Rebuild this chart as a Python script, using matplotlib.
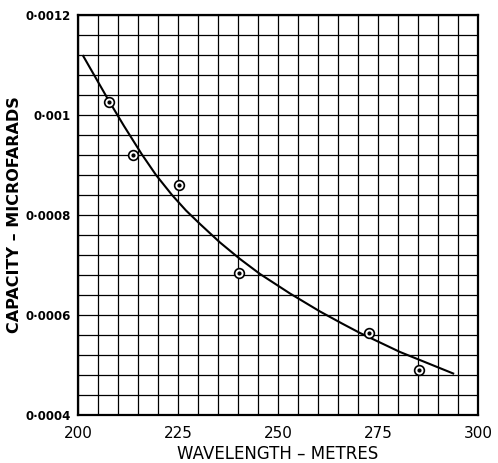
import numpy as np
import matplotlib.pyplot as plt
from matplotlib.ticker import MultipleLocator

# measured points
wavelength = [207.75, 213.75, 225.25, 240.25, 272.75, 285.25]
capacity = [0.001026, 0.00092, 0.00086, 0.000684, 0.000564, 0.00049]

# fitted curve
curve_x = [201.3, 207.6, 211.5, 215.9, 219.5, 223.5, 227.0, 230.5, 235.5, 240.5,
           245.5, 253.0, 260.5, 266.0, 270.5, 280.5, 287.0, 293.8]
curve_y = [0.001118, 0.00103, 0.000978, 0.000922, 0.00088, 0.00084, 0.000809,
           0.000782, 0.000745, 0.000712, 0.000682, 0.000643, 0.000607, 0.000583,
           0.000564, 0.000526, 0.000505, 0.000483]

x_ticks = [200, 225, 250, 275, 300]
y_ticks = [0.0004, 0.0006, 0.0008, 0.001, 0.0012]
y_tick_labels = ['0·0004', '0·0006', '0·0008', '0·001', '0·0012']

fig = plt.figure(figsize=(4.98, 4.63), dpi=100)
ax = fig.add_axes([0.1566, 0.1037, 0.8032, 0.864])

ax.set_xlim(200, 300)
ax.set_ylim(0.0004, 0.0012)

# graph paper grid
ax.xaxis.set_minor_locator(MultipleLocator(5))
ax.yaxis.set_minor_locator(MultipleLocator(0.00004))
ax.grid(which='both', color='black', linewidth=0.9)
ax.set_axisbelow(True)
for s in ax.spines.values():
    s.set_linewidth(1.6)

ax.set_xticks(x_ticks)
ax.set_xticklabels([str(v) for v in x_ticks], fontsize=11)
ax.set_yticks(y_ticks)
ax.set_yticklabels(y_tick_labels, fontsize=8.5, fontweight='bold')
ax.tick_params(which='both', length=0)
ax.tick_params(axis='x', pad=8)
ax.tick_params(axis='y', pad=5)

ax.plot(curve_x, curve_y, color='black', linewidth=1.5, solid_joinstyle='round')
ax.plot(wavelength, capacity, 'o', markersize=7, markerfacecolor='white',
        markeredgecolor='black', markeredgewidth=1.2)
ax.plot(wavelength, capacity, '.', markersize=4, color='black')

ax.set_xlabel('WAVELENGTH – METRES', fontsize=12, labelpad=3)
ax.set_ylabel('CAPACITY – MICROFARADS', fontsize=11.5, fontweight='bold', labelpad=3)

fig.savefig('out.png', dpi=100)
